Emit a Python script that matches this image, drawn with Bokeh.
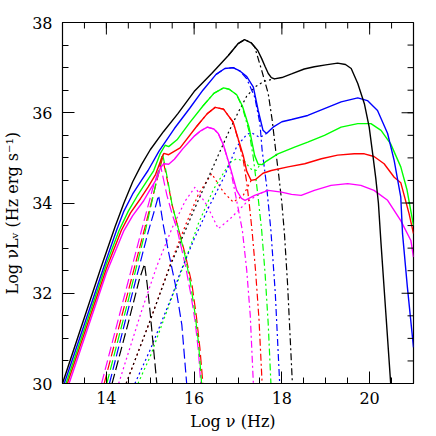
import numpy as np
from bokeh.plotting import figure
from bokeh.models import FixedTicker
from bokeh.embed import file_html
from bokeh.resources import INLINE

# ---------------- data (log nu, log nuL_nu) ----------------
# Totals (solid)
bk_tot_x = [13.0, 13.87, 14.2, 14.4, 14.6, 14.8, 15.0, 15.3, 15.63, 16.0, 16.4, 16.78, 17.0, 17.15, 17.3, 17.45, 17.54, 17.62, 17.69, 17.76, 17.83, 18.0, 18.22, 18.51, 18.74, 19.0, 19.27, 19.45, 19.58, 19.73, 19.88, 19.99, 20.07, 20.14, 20.2, 20.26, 20.37, 20.48]
bk_tot_y = [30.0, 32.55, 33.48, 34.0, 34.47, 34.85, 35.18, 35.58, 35.98, 36.47, 36.87, 37.27, 37.53, 37.62, 37.55, 37.38, 37.2, 37.02, 36.87, 36.78, 36.75, 36.78, 36.86, 36.97, 37.02, 37.06, 37.1, 37.07, 36.98, 36.65, 36.2, 35.68, 35.09, 34.55, 34.0, 33.1, 31.55, 30.0]

bl_tot_x = [13.04, 14.0, 14.23, 14.4, 14.6, 14.8, 14.95, 15.2, 15.55, 15.9, 16.2, 16.5, 16.7, 16.89, 17.05, 17.2, 17.35, 17.46, 17.57, 17.65, 17.8, 18.0, 18.22, 18.59, 18.97, 19.35, 19.73, 19.95, 20.18, 20.41, 20.56, 20.71, 20.75, 20.86, 21.0]
bl_tot_y = [30.0, 32.75, 33.39, 33.82, 34.2, 34.5, 34.72, 35.15, 35.65, 36.1, 36.5, 36.85, 36.98, 37.0, 36.92, 36.8, 36.57, 36.05, 35.61, 35.54, 35.68, 35.8, 35.85, 35.94, 36.09, 36.24, 36.33, 36.27, 36.05, 35.54, 34.94, 34.13, 33.32, 32.14, 30.8]

gr_tot_x = [13.08, 14.0, 14.29, 14.5, 14.7, 14.9, 15.08, 15.23, 15.34, 15.42, 15.61, 15.9, 16.2, 16.45, 16.67, 16.8, 16.97, 17.1, 17.25, 17.38, 17.46, 17.55, 17.65, 17.91, 18.29, 18.59, 18.97, 19.35, 19.73, 20.03, 20.26, 20.48, 20.71, 20.85, 21.0]
gr_tot_y = [30.0, 32.65, 33.39, 33.82, 34.15, 34.45, 34.72, 35.1, 35.28, 35.25, 35.4, 35.78, 36.15, 36.43, 36.55, 36.52, 36.4, 36.15, 35.68, 35.05, 34.86, 34.85, 34.93, 35.09, 35.24, 35.35, 35.5, 35.68, 35.76, 35.76, 35.61, 35.31, 34.8, 34.3, 33.5]

rd_tot_x = [13.11, 14.0, 14.34, 14.55, 14.78, 14.95, 15.12, 15.27, 15.31, 15.42, 15.68, 16.06, 16.3, 16.48, 16.67, 16.89, 17.01, 17.12, 17.2, 17.3, 17.4, 17.57, 17.76, 18.14, 18.52, 18.9, 19.27, 19.65, 19.88, 20.1, 20.33, 20.56, 20.71, 20.9, 21.0]
rd_tot_y = [30.0, 32.55, 33.39, 33.78, 34.1, 34.35, 34.63, 35.02, 35.1, 35.07, 35.22, 35.7, 35.98, 36.12, 36.08, 35.79, 35.4, 35.05, 34.7, 34.5, 34.52, 34.66, 34.72, 34.8, 34.87, 34.98, 35.06, 35.09, 35.09, 35.03, 34.87, 34.57, 34.45, 33.76, 33.32]

mg_tot_x = [13.15, 14.0, 14.4, 14.6, 14.85, 15.0, 15.15, 15.23, 15.31, 15.42, 15.55, 15.74, 16.0, 16.15, 16.3, 16.45, 16.55, 16.67, 16.82, 16.97, 17.08, 17.16, 17.38, 17.69, 17.99, 18.22, 18.44, 18.74, 19.12, 19.5, 19.8, 20.1, 20.41, 20.71, 20.94, 21.0]
mg_tot_y = [30.0, 32.45, 33.39, 33.72, 34.05, 34.3, 34.54, 34.78, 34.87, 34.86, 34.97, 35.2, 35.48, 35.6, 35.68, 35.64, 35.54, 35.28, 34.8, 34.28, 34.1, 34.06, 34.17, 34.28, 34.24, 34.19, 34.17, 34.28, 34.39, 34.43, 34.39, 34.28, 34.06, 33.61, 33.17, 32.8]

# Thermal (dash-dot) components
bk_th_x = [16.78, 17.0, 17.15, 17.3, 17.38, 17.54, 17.69, 17.78, 17.85, 17.93, 18.0, 18.06, 18.13, 18.19, 18.24]
bk_th_y = [37.27, 37.53, 37.62, 37.55, 37.46, 36.94, 36.42, 35.83, 35.24, 34.6, 34.0, 33.3, 32.2, 31.0, 30.0]
bl_th_x = [16.5, 16.7, 16.89, 17.05, 17.2, 17.38, 17.5, 17.55, 17.65, 17.75, 17.85, 17.95]
bl_th_y = [36.85, 36.98, 37.0, 36.92, 36.75, 36.35, 35.76, 35.17, 34.4, 33.39, 32.0, 30.0]
gr_th_x = [16.2, 16.45, 16.67, 16.8, 16.97, 17.1, 17.25, 17.35, 17.45, 17.54, 17.62, 17.69, 17.75]
gr_th_y = [36.15, 36.43, 36.55, 36.52, 36.4, 36.12, 35.6, 35.0, 34.2, 33.39, 32.4, 31.3, 30.0]
rd_th_x = [16.06, 16.3, 16.48, 16.67, 16.89, 17.01, 17.12, 17.2, 17.26, 17.32, 17.4, 17.48, 17.55]
rd_th_y = [35.7, 35.98, 36.12, 36.08, 35.79, 35.38, 34.95, 34.45, 33.95, 33.39, 32.5, 31.4, 30.0]
mg_th_x = [16.0, 16.15, 16.3, 16.45, 16.55, 16.67, 16.82, 16.92, 17.0, 17.1, 17.2, 17.28, 17.35]
mg_th_y = [35.48, 35.6, 35.68, 35.64, 35.54, 35.28, 34.78, 34.3, 33.9, 33.39, 32.5, 31.5, 30.0]

# Comptonised (dotted) components
bk_cp_x = [14.45, 15.0, 15.46, 16.0, 16.5, 16.8, 17.0, 17.2, 17.4, 17.6, 17.83]
bk_cp_y = [30.0, 31.4, 32.62, 33.85, 34.95, 35.6, 36.0, 36.37, 36.58, 36.7, 36.75]
bl_cp_x = [14.65, 15.0, 15.5, 15.68, 16.0, 16.33, 16.67, 16.97, 17.2, 17.3, 17.5, 17.65]
bl_cp_y = [30.0, 30.75, 31.95, 32.45, 33.2, 33.9, 34.55, 35.25, 35.52, 35.56, 35.45, 35.54]
gr_cp_x = [14.72, 15.0, 15.49, 15.76, 16.1, 16.44, 16.82, 16.97, 17.15, 17.3, 17.42, 17.5]
gr_cp_y = [30.0, 30.6, 31.9, 32.62, 33.55, 34.3, 34.9, 34.98, 34.92, 34.75, 34.72, 34.85]
rd_cp_x = [14.45, 15.0, 15.46, 15.8, 16.1, 16.4, 16.67, 16.89, 17.12, 17.3]
rd_cp_y = [30.0, 31.4, 32.65, 33.5, 34.2, 34.65, 34.24, 34.02, 34.17, 34.5]
mg_cp_x = [14.28, 14.8, 15.15, 15.5, 15.8, 16.02, 16.29, 16.55, 16.82, 17.2, 17.45, 17.65]
mg_cp_y = [30.0, 31.6, 32.6, 33.45, 34.05, 34.35, 33.95, 33.43, 33.65, 34.02, 34.18, 34.28]

# Synchrotron-like (long dash) components
bk_sy_x = [14.13, 14.5, 14.75, 14.87, 14.93, 15.0, 15.15]
bk_sy_y = [30.0, 31.35, 32.3, 32.65, 32.2, 31.55, 30.0]
bl_sy_x = [14.07, 14.5, 14.95, 15.1, 15.19, 15.3, 15.42, 15.57, 15.72, 15.83]
bl_sy_y = [30.0, 31.65, 33.35, 33.85, 34.17, 33.5, 32.9, 32.2, 31.3, 30.0]
gr_sy_x = [14.01, 14.5, 14.89, 15.1, 15.28, 15.4, 15.5, 15.65, 15.8, 15.92, 16.02, 16.1, 16.17]
gr_sy_y = [30.0, 31.85, 33.39, 34.3, 35.1, 34.5, 33.95, 33.4, 32.8, 32.2, 31.55, 30.9, 30.0]
rd_sy_x = [13.95, 14.5, 14.86, 15.1, 15.28, 15.4, 15.5, 15.65, 15.8, 15.95, 16.05, 16.13, 16.2]
rd_sy_y = [30.0, 32.05, 33.39, 34.3, 35.0, 34.45, 33.95, 33.4, 32.85, 32.2, 31.5, 30.8, 30.0]
mg_sy_x = [13.89, 14.4, 14.8, 15.05, 15.23, 15.38, 15.5, 15.61, 15.8, 15.92, 16.02, 16.1, 16.15]
mg_sy_y = [30.0, 31.9, 33.39, 34.3, 34.85, 34.17, 33.75, 33.43, 32.62, 32.0, 31.4, 30.7, 30.0]

x_ticks = [14, 16, 18, 20]
x_minor = [13, 13.5, 14, 14.5, 15, 15.5, 16, 16.5, 17, 17.5, 18, 18.5, 19, 19.5, 20, 20.5, 21]
y_ticks = [30, 32, 34, 36, 38]
y_minor = [30, 30.5, 31, 31.5, 32, 32.5, 33, 33.5, 34, 34.5, 35, 35.5, 36, 36.5, 37, 37.5, 38]

colors = {"bk": "#000000", "bl": "#0000ff", "gr": "#00ff00", "rd": "#ff0000", "mg": "#ff00ff"}

series = {
    "bk": [(bk_tot_x, bk_tot_y), (bk_th_x, bk_th_y), (bk_cp_x, bk_cp_y), (bk_sy_x, bk_sy_y)],
    "bl": [(bl_tot_x, bl_tot_y), (bl_th_x, bl_th_y), (bl_cp_x, bl_cp_y), (bl_sy_x, bl_sy_y)],
    "gr": [(gr_tot_x, gr_tot_y), (gr_th_x, gr_th_y), (gr_cp_x, gr_cp_y), (gr_sy_x, gr_sy_y)],
    "rd": [(rd_tot_x, rd_tot_y), (rd_th_x, rd_th_y), (rd_cp_x, rd_cp_y), (rd_sy_x, rd_sy_y)],
    "mg": [(mg_tot_x, mg_tot_y), (mg_th_x, mg_th_y), (mg_cp_x, mg_cp_y), (mg_sy_x, mg_sy_y)],
}
styles = [("solid", 1.4), ("7 3 2 3", 1.2), ("2 3", 1.2), ("10 4", 1.2)]

FONT = "DejaVu Serif"
W, H = 436, 436
BL, BR, BT, BB = 60, 23, 22, 53
X0, X1, Y0, Y1 = 13, 21, 30, 38

p = figure(width=W, height=H, x_range=(X0, X1), y_range=(Y0, Y1),
           output_backend="svg", toolbar_location=None,
           min_border_left=BL, min_border_right=BR, min_border_top=BT, min_border_bottom=BB)
p.grid.visible = False
p.outline_line_color = "#000000"
p.outline_line_width = 1.2
p.background_fill_color = "white"
p.border_fill_color = "white"

for key in ["mg", "rd", "gr", "bl", "bk"]:
    for (xs, ys), (dash, lw) in list(zip(series[key], styles))[1:]:
        p.line(xs, ys, line_color=colors[key], line_dash=dash, line_width=lw)
for key in ["mg", "rd", "gr", "bl", "bk"]:
    xs, ys = series[key][0]
    p.line(xs, ys, line_color=colors[key], line_width=1.4)

def style_axis(ax, ticks, minor):
    ax.ticker = FixedTicker(ticks=ticks, minor_ticks=minor)
    ax.major_tick_in = 12
    ax.major_tick_out = 0
    ax.minor_tick_in = 6
    ax.minor_tick_out = 0
    ax.axis_line_color = "#000000"
    ax.major_tick_line_color = "#000000"
    ax.minor_tick_line_color = "#000000"
    ax.major_label_text_font = FONT
    ax.major_label_text_font_size = "16px"
    ax.major_label_text_color = "#000000"
    ax.axis_label_text_font = FONT
    ax.axis_label_text_font_size = "16px"
    ax.axis_label_text_font_style = "normal"
    ax.axis_label_text_color = "#000000"

style_axis(p.xaxis[0], x_ticks, x_minor)
p.xaxis[0].major_label_standoff = 8
p.xaxis[0].axis_label = "Log  \u03bd  (Hz)"
p.xaxis[0].axis_label_standoff = 5
style_axis(p.yaxis[0], y_ticks, y_minor)
p.yaxis[0].major_label_standoff = 10
p.yaxis[0].major_label_orientation = "horizontal"
p.yaxis[0].axis_label = "Log  \u03bdL\u1d65  (Hz  erg  s\u207b\u00b9)"
p.yaxis[0].axis_label_standoff = 7

# mirrored inward ticks on top and right frame edges
fw = W - BL - BR
fh = H - BT - BB
dy_per_px = (Y1 - Y0) / fh
dx_per_px = (X1 - X0) / fw
tx = list(x_ticks) + list(x_minor)
tl = [12 * dy_per_px] * len(x_ticks) + [6 * dy_per_px] * len(x_minor)
p.segment(x0=tx, y0=[Y1] * len(tx), x1=tx, y1=[Y1 - l for l in tl], line_color="#000000", line_width=1)
ty = list(y_ticks) + list(y_minor)
tl2 = [12 * dx_per_px] * len(y_ticks) + [6 * dx_per_px] * len(y_minor)
p.segment(x0=[X1] * len(ty), y0=ty, x1=[X1 - l for l in tl2], y1=ty, line_color="#000000", line_width=1)

open("out.html", "w").write(file_html(p, INLINE))
